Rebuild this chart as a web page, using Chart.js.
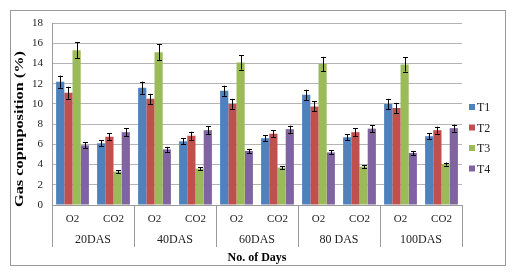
<!DOCTYPE html>
<html>
<head>
<meta charset="utf-8">
<script src="https://cdn.jsdelivr.net/npm/chart.js@4"></script>
<style>
  html, body { margin: 0; padding: 0; background: #fff; }
  #wrap { width: 514px; height: 272px; }
</style>
</head>
<body>
<div id="wrap"><canvas id="chart" width="514" height="272"></canvas></div>
<script>
// data
const gases = ['O2', 'CO2', 'O2', 'CO2', 'O2', 'CO2', 'O2', 'CO2', 'O2', 'CO2'];
const days = ['20DAS', '40DAS', '60DAS', '80 DAS', '100DAS'];
const seriesNames = ['T1', 'T2', 'T3', 'T4'];

const t1 = [12.2, 6.1, 11.6, 6.3, 11.3, 6.6, 10.9, 6.7, 10.0, 6.8];
const t2 = [11.1, 6.75, 10.5, 6.85, 10.0, 7.05, 9.75, 7.2, 9.6, 7.4];
const t3 = [15.3, 3.3, 15.1, 3.6, 14.1, 3.7, 13.95, 3.8, 13.9, 4.05];
const t4 = [5.9, 7.2, 5.5, 7.4, 5.35, 7.5, 5.2, 7.55, 5.15, 7.6];

const e1 = [0.6, 0.3, 0.6, 0.3, 0.5, 0.3, 0.5, 0.3, 0.5, 0.3];
const e2 = [0.6, 0.35, 0.5, 0.4, 0.5, 0.35, 0.5, 0.4, 0.5, 0.35];
const e3 = [0.8, 0.15, 0.8, 0.15, 0.7, 0.15, 0.7, 0.15, 0.7, 0.15];
const e4 = [0.3, 0.4, 0.25, 0.4, 0.2, 0.35, 0.2, 0.35, 0.2, 0.35];

const colors = ['#4f81bd', '#c0504d', '#9bbb59', '#8064a2'];
const values = [t1, t2, t3, t4];
const errors = [e1, e2, e3, e4];

const yTitle = 'Gas copmposition (%)';
const serif = 'Liberation Serif';

// frame, group labels, error bars, legend, y title
const decor = {
  id: 'decor',
  beforeDraw(chart) {
    const ctx = chart.ctx;
    ctx.save();
    ctx.fillStyle = '#fff';
    ctx.fillRect(0, 0, chart.width, chart.height);
    ctx.strokeStyle = '#9a9a9a';
    ctx.lineWidth = 1;
    ctx.strokeRect(10.5, 10.5, 495, 255);
    ctx.restore();
  },
  afterDatasetsDraw(chart) {
    const ctx = chart.ctx;
    const y = chart.scales.y;
    ctx.save();
    ctx.strokeStyle = '#000';
    ctx.lineWidth = 1;
    values.forEach((vals, d) => {
      const meta = chart.getDatasetMeta(d);
      meta.data.forEach((bar, i) => {
        const x = Math.round(bar.x) + 0.5;
        const top = y.getPixelForValue(vals[i] + errors[d][i]);
        const bot = y.getPixelForValue(vals[i] - errors[d][i]);
        ctx.beginPath();
        ctx.moveTo(x, top); ctx.lineTo(x, bot);
        ctx.moveTo(x - 2.5, Math.round(top) + 0.5); ctx.lineTo(x + 2.5, Math.round(top) + 0.5);
        ctx.moveTo(x - 2.5, Math.round(bot) + 0.5); ctx.lineTo(x + 2.5, Math.round(bot) + 0.5);
        ctx.stroke();
      });
    });
    ctx.restore();
  },
  afterDraw(chart) {
    const ctx = chart.ctx;
    const x = chart.scales.x;
    const area = chart.chartArea;
    const step = (area.right - area.left) / gases.length;
    ctx.save();
    // group separators
    ctx.strokeStyle = '#9a9a9a';
    ctx.lineWidth = 1;
    for (let g = 0; g <= days.length; g++) {
      const px = Math.round(area.left + g * 2 * step) + 0.5;
      ctx.beginPath();
      ctx.moveTo(px, area.bottom);
      ctx.lineTo(px, area.bottom + 42);
      ctx.stroke();
    }
    ctx.fillStyle = '#222';
    ctx.font = '12px "' + serif + '"';
    ctx.textAlign = 'center';
    ctx.textBaseline = 'middle';
    days.forEach((d, g) => {
      const cx = (x.getPixelForValue(g * 2) + x.getPixelForValue(g * 2 + 1)) / 2;
      ctx.fillText(d, cx, area.bottom + 35);
    });
    // legend
    ctx.textAlign = 'left';
    ctx.font = '12px "' + serif + '"';
    seriesNames.forEach((n, i) => {
      const ly = 107 + i * 20.5;
      ctx.fillStyle = colors[i];
      ctx.fillRect(469, ly - 3, 6, 6);
      ctx.fillStyle = '#222';
      ctx.fillText(n, 477, ly + 1);
    });
    // y title, stretched along its length like the original
    ctx.font = 'bold 12px "' + serif + '"';
    ctx.fillStyle = '#000';
    ctx.textAlign = 'center';
    const w = ctx.measureText(yTitle).width;
    ctx.translate(20, 129);
    ctx.rotate(-Math.PI / 2);
    ctx.scale(156 / w, 1);
    ctx.fillText(yTitle, 0, 0);
    ctx.restore();
  }
};

new Chart(document.getElementById('chart'), {
  type: 'bar',
  data: {
    labels: gases,
    datasets: seriesNames.map((n, i) => ({
      label: n,
      data: values[i],
      backgroundColor: colors[i],
      borderWidth: 0,
      categoryPercentage: 0.8,
      barPercentage: 1.0
    }))
  },
  options: {
    responsive: false,
    animation: false,
    devicePixelRatio: 1,
    layout: { padding: { top: 23, right: 52, bottom: 0, left: 0 } },
    plugins: {
      legend: { display: false },
      tooltip: { enabled: false }
    },
    scales: {
      x: {
        afterFit(scale) { scale.height = 67; },
        grid: { display: false, drawTicks: false },
        border: { display: true, color: '#9a9a9a' },
        ticks: { color: '#222', padding: 8, font: { family: serif, size: 11 } },
        title: {
          display: true,
          text: 'No. of Days',
          color: '#000',
          font: { family: serif, size: 12, weight: 'bold' },
          padding: { top: 0, bottom: 7 }
        }
      },
      y: {
        min: 0,
        max: 18,
        afterFit(scale) { scale.width = 52; },
        grid: { color: '#b4b4b4', drawTicks: false },
        border: { display: true, color: '#9a9a9a' },
        ticks: { stepSize: 2, color: '#222', padding: 9, font: { family: serif, size: 11 } }
      }
    }
  },
  plugins: [decor]
});
</script>
</body>
</html>
